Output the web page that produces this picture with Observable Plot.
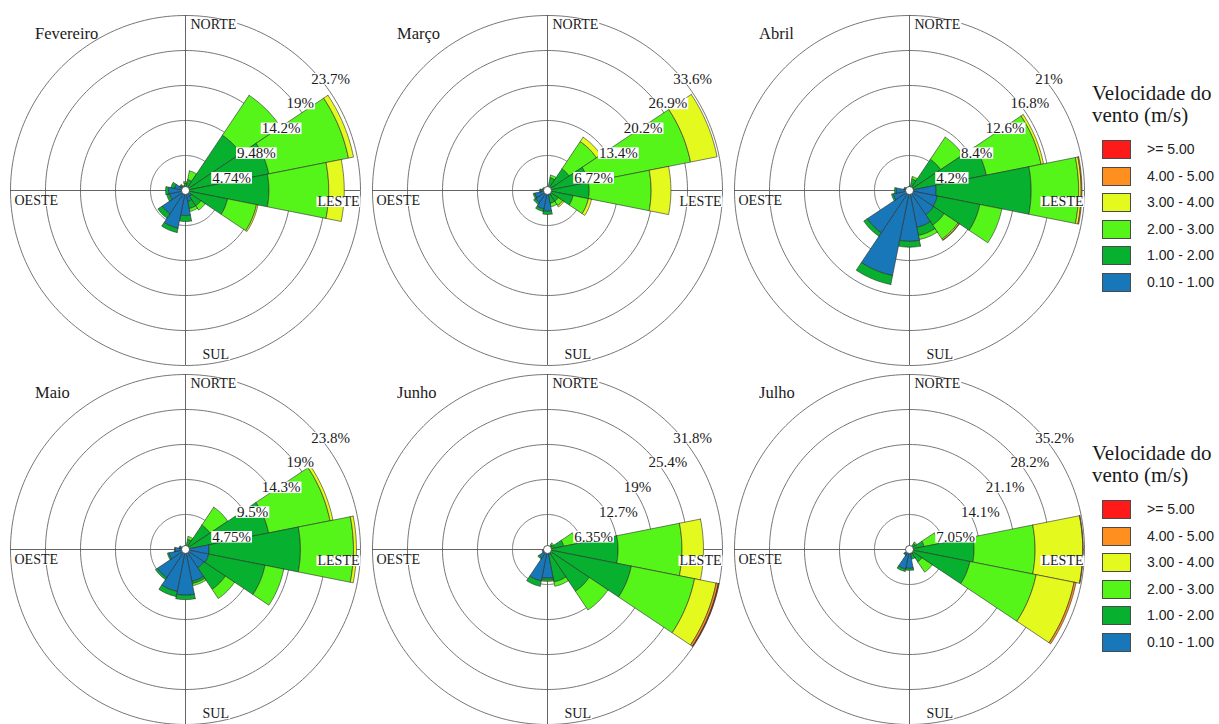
<!DOCTYPE html>
<html><head><meta charset="utf-8">
<script src="https://cdn.jsdelivr.net/npm/d3@7"></script>
<script src="https://cdn.jsdelivr.net/npm/@observablehq/plot@0.6"></script>
<style>
html,body{margin:0;padding:0;background:#fff;overflow:hidden;}
#page{position:relative;width:1219px;height:724px;overflow:hidden;background:#fff;}
.panel{position:absolute;width:360px;height:360px;}
.panel svg{overflow:visible;}
.mtitle{position:absolute;font-family:"Liberation Serif","Times New Roman",serif;font-size:16.5px;color:#1a1a1a;line-height:1;white-space:nowrap;}
.legend{position:absolute;left:1092px;width:127px;}
.legend .lt{font-family:"Liberation Serif","Times New Roman",serif;font-size:21px;line-height:22px;color:#1a1a1a;white-space:nowrap;}
.legend .row{position:absolute;left:10px;height:19px;white-space:nowrap;}
.legend .sw{position:absolute;left:0;top:0;width:27px;height:17px;border:1px solid #4a4a4a;}
.legend .lab{position:absolute;left:45px;top:1px;font-family:"Liberation Sans",Arial,sans-serif;font-size:14px;color:#222;line-height:17px;}
</style></head><body><div id="page"></div>
<script>
// ---------- data ----------
const months = ["Fevereiro", "Março", "Abril", "Maio", "Junho", "Julho"];
const ringSteps = [4.74, 6.72, 4.2, 4.75, 6.35, 7.05];
const ringLabels = [
  ["4.74%", "9.48%", "14.2%", "19%", "23.7%"],
  ["6.72%", "13.4%", "20.2%", "26.9%", "33.6%"],
  ["4.2%", "8.4%", "12.6%", "16.8%", "21%"],
  ["4.75%", "9.5%", "14.3%", "19%", "23.8%"],
  ["6.35%", "12.7%", "19%", "25.4%", "31.8%"],
  ["7.05%", "14.1%", "21.1%", "28.2%", "35.2%"]
];
const directions = ["N","NNE","NE","ENE","E","ESE","SE","SSE","S","SSW","SW","WSW","W","WNW","NW","NNW"];
const speedClasses = ["0.10 - 1.00", "1.00 - 2.00", "2.00 - 3.00", "3.00 - 4.00", "4.00 - 5.00", ">= 5.00"];
const classColors = ["#1877b8", "#07b12f", "#55f51a", "#e4fa1e", "#ff9020", "#ff1a1a"];
const compassLabels = ["NORTE", "LESTE", "SUL", "OESTE"];
const legendTitle = ["Velocidade do", "vento (m/s)"];

// frequency (%) per direction (rows, N clockwise) and speed class (columns, as speedClasses)
const fevereiro = [
  [0.5,0.5,0.2,0,0,0],[0.3,1.2,1.2,0,0,0],[0.4,8.6,6.5,0,0,0],[0.4,11.1,11.0,0.7,0,0],
  [0.5,10.8,8.1,2.1,0,0],[0.5,5.3,4.0,0.2,0,0],[1.0,1.5,0.7,0,0,0],[1.5,1.0,0.4,0,0,0],
  [3.4,0.8,0,0,0,0],[5.2,0.6,0,0,0,0],[3.8,0.7,0,0,0,0],[2.2,0.4,0,0,0,0],
  [2.3,0.4,0,0,0,0],[1.5,0.5,0,0,0,0],[0.8,0.2,0,0,0,0],[0.5,0.2,0,0,0,0]
];
const marco = [
  [0.3,0.2,0,0,0,0],[0.3,2.2,0.5,0,0,0],[0.3,4.7,6.3,1.0,0,0],[0.3,7.7,20.0,5.2,0,0],
  [0.3,7.7,11.9,3.8,0,0],[0.5,4.5,3.0,0.6,0,0],[0.5,2.0,1.0,0.3,0,0],[1.0,1.5,0.7,0,0,0],
  [4.0,0.6,0,0,0,0],[3.6,0.5,0,0,0,0],[2.8,0.4,0,0,0,0],[2.5,0.3,0,0,0,0],
  [1.3,0.2,0,0,0,0],[0.8,0.2,0,0,0,0],[0.5,0.1,0,0,0,0],[0.3,0.1,0,0,0,0]
];
const abril = [
  [0.3,0.2,0,0,0,0],[0.4,1.0,0.3,0,0,0],[0.4,4.1,3.2,0,0,0],[0.5,8.9,6.7,0.3,0,0],
  [3.2,11.4,5.7,0.3,0.1,0],[3.4,5.2,2.7,0,0,0],[3.5,1.5,2.0,0.15,0.05,0],[4.5,1.0,0.5,0,0,0],
  [6.1,0.7,0,0,0,0],[10.4,1.1,0,0,0,0],[6.1,0.5,0,0,0,0],[2.0,0.2,0,0,0,0],
  [1.6,0.2,0,0,0,0],[0.6,0.1,0,0,0,0],[0.4,0.1,0,0,0,0],[0.3,0.1,0,0,0,0]
];
const maio = [
  [0.3,0.2,0,0,0,0],[0.4,1.0,0.4,0,0,0],[0.4,3.6,2.9,0,0,0],[0.5,11.0,8.5,0.4,0,0],
  [3.2,12.4,7.2,0.4,0,0],[3.2,7.8,2.6,0,0,0],[3.0,3.5,1.5,0,0,0],[4.4,0.3,0.3,0,0,0],
  [6.2,0.6,0,0,0,0],[5.8,0.7,0,0,0,0],[4.6,0.3,0,0,0,0],[2.3,0.2,0,0,0,0],
  [1.4,0.1,0,0,0,0],[0.8,0.1,0,0,0,0],[0.4,0.1,0,0,0,0],[0.3,0.1,0,0,0,0]
];
const junho = [
  [0.2,0.1,0,0,0,0],[0.2,0.3,0,0,0,0],[0.3,0.8,0.3,0,0,0],[0.3,2.7,2.4,0,0,0],
  [0.5,12.3,11.6,3.9,0,0],[0.5,15.0,11.7,4.0,0.4,0.1],[0.5,8.6,4.1,0,0,0],[1.0,5.0,0.8,0,0,0],
  [5.2,0.4,0.2,0,0,0],[5.8,1.0,0,0,0,0],[1.8,0.3,0,0,0,0],[0.8,0.2,0,0,0,0],
  [0.5,0.1,0,0,0,0],[0.3,0.1,0,0,0,0],[0.2,0.1,0,0,0,0],[0.2,0.1,0,0,0,0]
];
const julho = [
  [0.2,0.1,0,0,0,0],[0.2,0.2,0,0,0,0],[0.3,1.2,0.3,0,0,0],[0.3,2.7,3.0,0,0,0],
  [0.5,12.5,12.3,9.6,0.1,0],[0.5,11.9,13.6,7.8,0.4,0],[0.5,2.5,2.5,0,0,0],[1.0,1.0,0,0,0,0],
  [3.8,0.4,0,0,0,0],[4.0,0.5,0,0,0,0],[1.2,0.2,0,0,0,0],[0.5,0.1,0,0,0,0],
  [0.3,0.1,0,0,0,0],[0.2,0.1,0,0,0,0],[0.2,0.1,0,0,0,0],[0.2,0.1,0,0,0,0]
];
const monthData = [fevereiro, marco, abril, maio, junho, julho];

// ---------- build ----------
const SERIF = '"Liberation Serif","Times New Roman",serif';
const page = document.getElementById("page");
const rad = d => d * Math.PI / 180;

function wedgePoints(rows) {
  const pts = [];
  rows.forEach((vals, i) => {
    const b = i * 360 / directions.length, half = 180 / directions.length;
    let cum = 0;
    vals.forEach((v, k) => {
      if (!v) return;
      const r0 = cum, r1 = cum + v; cum = r1;
      const id = directions[i] + "-" + k, n = 14, poly = [];
      for (let j = 0; j <= n; j++) { const a = rad(b - half + 2 * half * j / n); poly.push([r1 * Math.sin(a), r1 * Math.cos(a)]); }
      for (let j = n; j >= 0; j--) { const a = rad(b - half + 2 * half * j / n); poly.push([r0 * Math.sin(a), r0 * Math.cos(a)]); }
      poly.push(poly[0]);
      poly.forEach(([x, y]) => pts.push({id, cls: speedClasses[k], x, y}));
    });
  });
  return pts;
}
function ringPoints(step) {
  const pts = [];
  for (let k = 1; k <= 5; k++) for (let j = 0; j <= 240; j++) {
    const a = rad(360 * j / 240);
    pts.push({ring: k, x: k * step * Math.sin(a), y: k * step * Math.cos(a)});
  }
  return pts;
}

months.forEach((m, idx) => {
  const col = idx % 3, row = Math.floor(idx / 3);
  const left = 5 + 362 * col, top = 10 + 359 * row;
  const step = ringSteps[idx], outer = step * 5, half = outer * 180 / 175;
  const lbls = ringLabels[idx].map((t, k) => ({t, x: (k + 1) * step * Math.SQRT1_2, y: (k + 1) * step * Math.SQRT1_2}));
  const comp = [
    {t: compassLabels[0], x: 0, y: outer, dx: 5, dy: 9, anchor: "start"},
    {t: compassLabels[1], x: outer, y: 0, dx: -1, dy: 11, anchor: "end"},
    {t: compassLabels[2], x: 0, y: -outer, dx: 17, dy: -11, anchor: "start"},
    {t: compassLabels[3], x: -outer, y: 0, dx: 4, dy: 10, anchor: "start"}
  ];
  const plot = Plot.plot({
    width: 360, height: 360, margin: 0,
    x: {domain: [-half, half], axis: null},
    y: {domain: [-half, half], axis: null},
    color: {domain: speedClasses, range: classColors},
    style: {background: "transparent", fontFamily: SERIF, color: "#1a1a1a"},
    marks: [
      Plot.line(ringPoints(step), {x: "x", y: "y", z: "ring", stroke: "#666", strokeWidth: 0.9, curve: "linear"}),
      Plot.ruleX([0], {y1: -outer, y2: outer, stroke: "#555", strokeWidth: 0.9}),
      Plot.ruleY([0], {x1: -outer, x2: outer, stroke: "#555", strokeWidth: 0.9}),
      Plot.line(wedgePoints(monthData[idx]), {x: "x", y: "y", z: "id", fill: "cls", stroke: "#2b2b2b", strokeWidth: 0.6, strokeLinejoin: "miter", curve: "linear"}),
      Plot.dot([{x: 0, y: 0}], {x: "x", y: "y", r: 4, fill: "white", stroke: "#333", strokeWidth: 0.8}),
      Plot.text(lbls, {x: "x", y: "y", text: "t", dx: 2, dy: 12, textAnchor: "start", fontSize: 15, fill: "#1a1a1a"}),
      ...comp.map(c => Plot.text([c], {x: "x", y: "y", text: "t", dx: c.dx, dy: c.dy, textAnchor: c.anchor, fontSize: 14, fill: "#1a1a1a"}))
    ]
  });
  const div = document.createElement("div");
  div.className = "panel";
  div.style.left = left + "px"; div.style.top = top + "px";
  div.appendChild(plot);
  page.appendChild(div);
  // white boxes behind text labels
  plot.querySelectorAll('g[aria-label="text"] text').forEach(t => {
    const bb = t.getBBox();
    const r = document.createElementNS("http://www.w3.org/2000/svg", "rect");
    r.setAttribute("x", bb.x - 1); r.setAttribute("y", bb.y + 2.5);
    r.setAttribute("width", bb.width + 2); r.setAttribute("height", bb.height - 4.5);
    r.setAttribute("fill", "white");
    const tr = t.getAttribute("transform");
    if (tr) r.setAttribute("transform", tr);
    t.parentNode.insertBefore(r, t);
  });
  const title = document.createElement("div");
  title.className = "mtitle";
  title.textContent = m;
  title.style.left = (left + 180 - 150) + "px";
  title.style.top = (top + 180 - 164) + "px";
  page.appendChild(title);
});

// legends
[82, 442].forEach(ly => {
  const lg = document.createElement("div");
  lg.className = "legend";
  lg.style.top = ly + "px";
  legendTitle.forEach(s => { const d = document.createElement("div"); d.className = "lt"; d.textContent = s; lg.appendChild(d); });
  const order = speedClasses.slice().reverse(), cols = classColors.slice().reverse();
  order.forEach((c, i) => {
    const rw = document.createElement("div");
    rw.className = "row"; rw.style.top = (58 + 26.5 * i) + "px";
    const sw = document.createElement("div"); sw.className = "sw"; sw.style.background = cols[i];
    const lb = document.createElement("div"); lb.className = "lab"; lb.textContent = c;
    rw.appendChild(sw); rw.appendChild(lb); lg.appendChild(rw);
  });
  page.appendChild(lg);
});
</script>
</body></html>
